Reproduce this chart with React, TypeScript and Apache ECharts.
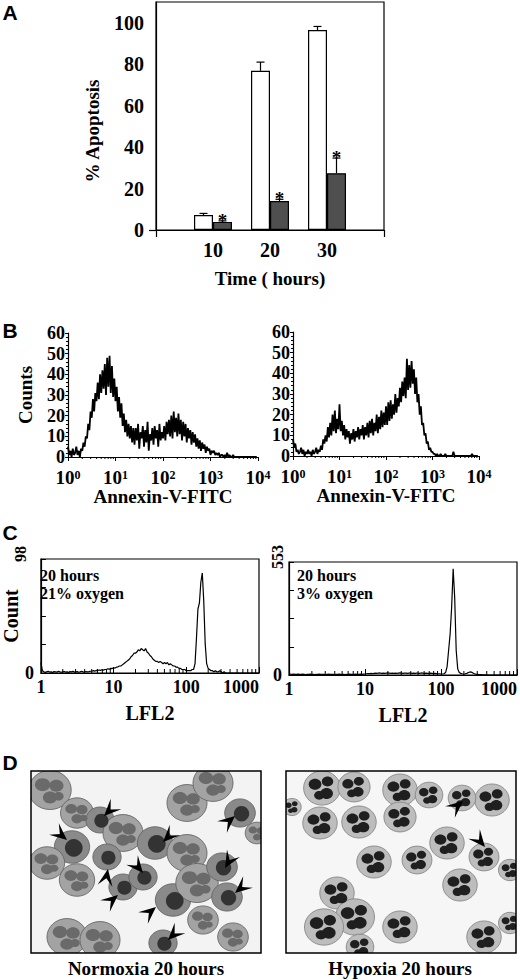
import React, { useEffect, useRef } from 'react';
import * as echarts from 'echarts';

// ---------- Panel A: % apoptosis ----------
const hours = [10, 20, 30];
const normoxiaApoptosis = [7.2, 76.8, 96.5];
const normoxiaSem = [0.8, 4.2, 1.7];
const hypoxiaApoptosis = [3.9, 14.0, 27.4];
const hypoxiaSem = [0.5, 0.8, 7.3];
const apoptosisTicks = [0, 20, 40, 60, 80, 100];

// ---------- Panel B: Annexin-V-FITC histograms (channel bins, 0.025 decade each) ----------
const annexinDecadesPerBin = 0.025;
const annexinNormoxia = [
  5, 1, 3, 0, 4, 1, 2, 5, 1, 3, 0, 4,
  3, 7, 5, 10,
  9, 16, 13, 22,
  19, 28, 22, 31,
  27, 36, 28, 40,
  31, 42, 33, 45,
  30, 48, 34, 49,
  31, 44, 29, 38,
  27, 34, 22, 29,
  19, 26, 15, 21,
  12, 18, 10, 16,
  9, 15, 7, 14,
  6, 14, 8, 16, 4, 12, 9, 15, 5, 13, 7, 17, 3, 11, 8, 14, 6, 15, 9, 13, 5, 16, 8, 12,
  9, 15, 8, 17, 11, 18, 10, 20,
  9, 22, 12, 19, 10, 21, 11, 18,
  8, 17, 10, 16, 7, 14, 9, 13,
  6, 12, 7, 11, 5, 9, 4, 8,
  3, 7, 4, 6, 2, 5, 3, 4,
  1, 3, 2, 3, 1, 2, 1, 2,
  0, 1, 1, 0, 1, 0, 2, 0, 1, 0, 0, 1,
  0, 0, 0, 0, 0, 0, 0, 0, 0, 0, 0, 0, 0, 0, 0, 0, 0, 0, 0, 0,
];
const annexinHypoxia = [
  8, 4, 6, 2,
  3, 1, 2, 4, 1, 3, 0, 2, 1, 3, 1, 2, 0, 3, 1, 2, 4, 1, 3, 2,
  5, 3, 8, 6,
  10, 7, 14, 9,
  16, 10, 20, 12,
  22, 11, 18, 13,
  25, 12, 17, 10,
  15, 8, 13, 9,
  12, 6, 11, 8,
  13, 7, 12, 9,
  14, 8, 13, 10,
  15, 8, 14, 10,
  16, 9, 17, 11,
  18, 10, 16, 12,
  20, 11, 19, 13,
  22, 14, 21, 15,
  24, 15, 26, 17,
  27, 18, 25, 20,
  30, 21, 28, 24,
  33, 26, 36, 29,
  38, 28, 47, 32,
  44, 33, 46, 35,
  42, 30, 38, 26,
  30, 20, 24, 15,
  16, 10, 11, 6,
  7, 3, 4, 2,
  2, 1, 1, 0, 1, 0, 0, 1,
  0, 0, 0, 1, 0, 0, 0, 0, 0, 0, 2, 0, 0, 0, 0, 0,
  0, 0, 0, 0, 0, 0, 0, 0, 0, 0, 1, 0, 0, 0, 0, 0,
];
const annexinMinorTicks = [
  2, 3, 4, 5, 6, 7, 8, 9, 20, 30, 40, 50, 60, 70, 80, 90,
  200, 300, 400, 500, 600, 700, 800, 900, 2000, 3000, 4000, 5000, 6000, 7000, 8000, 9000,
];

// ---------- Panel C: LFL2 histograms (channel bins, 0.02 decade each) ----------
const lflDecadesPerBin = 0.02;
const lflNormoxia = [
  9, 2,
  1, 0.5, 1, 1.5, 0.8, 1, 0.5, 1.2, 1, 0.7, 1.5, 1, 0.6, 1, 1.3, 0.8, 1, 0.5, 1.2, 1,
  1.4, 0.8, 1, 1.2, 0.6, 1, 1.5, 1, 0.8, 1.3, 1, 1.2, 1.5,
  1.5, 2, 1.6, 2.2, 2, 2.6, 2.3, 2.8, 2.5, 3,
  3, 3.6, 3.2, 4, 3.8, 4.5, 4.2, 5, 5.3, 6,
  6, 7, 8, 9, 10,
  11, 12, 14, 15, 17,
  17, 18, 20, 19, 21,
  20, 19, 21, 18, 17,
  15, 14, 12, 11, 10,
  10, 9, 10, 9, 8, 9, 8, 9, 7, 8,
  7, 6, 6, 5, 5, 4, 4, 3, 3, 3,
  2, 2, 2, 2, 3,
  3, 8, 30, 55, 60, 78, 86, 62, 25, 8, 4,
  3, 2, 2, 1, 2, 1, 1, 2, 1,
  0, 1, 0, 0, 0, 0, 0, 0, 0, 0, 0, 0, 0, 0, 0, 0, 0, 0, 0, 0, 0, 0, 0, 0, 0, 0,
];
const lflHypoxia = [
  6, 4, 3, 4, 3, 3, 4, 3, 3, 4, 3, 2, 3, 3, 4, 3, 3, 2, 3, 3, 4, 3, 3, 3, 2,
  3, 4, 3, 3, 3, 2, 3, 3, 4, 3, 3, 3, 2, 3, 3, 4, 3, 3, 3, 4, 3, 3, 4, 3, 4,
  5, 6, 7, 7, 8, 7, 8, 9, 8, 10, 9, 8, 9, 8, 9, 10, 9, 8, 9, 8, 9, 8, 9, 10, 9, 8,
  9, 9, 8, 9, 10, 8, 9, 8, 9, 9, 8, 10, 9, 8, 9, 8, 8, 9, 8, 7, 8, 7, 6, 6, 5, 5,
  6, 12, 40, 120, 200, 330, 520, 380, 120, 30, 12,
  8, 6, 5, 6, 8,
  12, 15, 14, 10, 6,
  4, 3, 2, 2, 1, 1, 1, 0, 0, 0, 0, 0, 0, 0, 0, 0, 0, 0, 0, 0, 0, 0, 0, 0, 0, 0, 0, 0,
];
const lflNormoxiaMax = 98;
const lflHypoxiaMax = 553;
const lflMinorTicks = [2, 3, 4, 5, 6, 7, 8, 9, 20, 30, 40, 50, 60, 70, 80, 90, 200, 300, 400, 500, 600, 700, 800, 900];

// ---------- Panel D: micrograph sketch (image-relative positions) ----------
const normoxiaCells = [
  [19, 19, 18, 0], [46, 42, 14, 0], [69, 49, 12, 1], [92, 62, 17, 0], [41, 76, 15, 1],
  [16, 92, 15, 0], [46, 109, 15, 0], [76, 86, 12, 1], [92, 116, 12, 1], [112, 106, 12, 1],
  [124, 72, 15, 1], [156, 82, 17, 0], [142, 129, 15, 1], [166, 112, 18, 0], [191, 96, 13, 1],
  [196, 126, 13, 1], [172, 149, 13, 0], [202, 166, 13, 0], [156, 32, 17, 0], [182, 12, 17, 0],
  [209, 42, 13, 1], [36, 166, 17, 0], [69, 169, 17, 0], [132, 172, 12, 1], [226, 62, 10, 0],
];
const hypoxiaCells = [
  [36, 17, 16], [68, 16, 14], [114, 19, 15], [143, 24, 12], [206, 29, 15], [34, 52, 15],
  [73, 51, 15], [114, 46, 14], [176, 27, 12], [161, 72, 15], [88, 91, 15], [131, 89, 13],
  [198, 86, 13], [174, 114, 15], [51, 122, 15], [69, 146, 17], [38, 156, 17], [114, 156, 15],
  [198, 166, 15], [74, 176, 12], [224, 99, 10], [224, 152, 10], [6, 36, 8],
];
const normoxiaArrows = [
  [73, 45, 135], [36, 69, 40], [132, 71, 135], [204, 45, -40], [112, 102, 50], [77, 98, -80],
  [87, 124, -40], [194, 97, 120], [125, 136, -40], [204, 122, 140], [137, 169, 135],
];
const hypoxiaArrows = [[177, 30, -40], [199, 76, 50]];

const SERIF = '"Liberation Serif", "Times New Roman", Times, serif';
const SANS = '"Liberation Sans", Arial, Helvetica, sans-serif';

const bold = (size: number) => ({ fontFamily: SERIF, fontWeight: 'bold' as const, fontSize: size, color: '#000' });

function gText(text: string, x: number, y: number, size: number, opts: any = {}) {
  return {
    type: 'text',
    x,
    y,
    z: 20,
    rotation: opts.rotation || 0,
    style: {
      text,
      fontFamily: opts.family || SERIF,
      fontWeight: 'bold',
      fontSize: size,
      fill: '#000',
      align: opts.align || 'center',
      verticalAlign: opts.valign || 'middle',
      lineHeight: opts.lineHeight,
    },
  };
}

function arrowHead(ox: number, oy: number, a: number[]) {
  const [tx0, ty0, deg] = a;
  const tx = ox + tx0;
  const ty = oy + ty0;
  const r = (deg * Math.PI) / 180;
  const ux = Math.cos(r);
  const uy = Math.sin(r);
  const nx = -uy;
  const ny = ux;
  const L = 17;
  const W = 7.5;
  return {
    type: 'polygon',
    z: 3,
    shape: {
      points: [
        [tx, ty],
        [tx - L * ux + W * nx, ty - L * uy + W * ny],
        [tx - 0.55 * L * ux, ty - 0.55 * L * uy],
        [tx - L * ux - W * nx, ty - L * uy - W * ny],
      ],
    },
    style: { fill: '#000' },
  };
}

function micrograph(ox: number, oy: number, w: number, h: number, hyp: boolean) {
  const els: any[] = [];
  els.push({ type: 'rect', z: 0, shape: { x: ox, y: oy, width: w, height: h }, style: { fill: hyp ? '#f6f6f6' : '#f3f3f3' } });
  if (!hyp) {
    normoxiaCells.forEach(([cx, cy, r0, k]) => {
      const r = r0 * 1.18;
      const x = ox + cx;
      const y = oy + cy;
      els.push({
        type: 'ellipse', z: 1,
        shape: { cx: x, cy: y, rx: r, ry: r * 0.92 },
        style: { fill: k ? '#8a8a8a' : '#a3a3a3', stroke: '#5e5e5e', lineWidth: 0.8 },
      });
      if (k) {
        els.push({ type: 'circle', z: 2, shape: { cx: x + r * 0.1, cy: y + r * 0.05, r: r * 0.5 }, style: { fill: '#333333' } });
      } else {
        [[-0.35, -0.25, 0.3], [0.3, -0.2, 0.28], [0, 0.35, 0.28], [0.4, 0.3, 0.2]].forEach(([dx, dy, rr]) => {
          els.push({ type: 'ellipse', z: 2, shape: { cx: x + dx * r, cy: y + dy * r, rx: rr * r * 1.2, ry: rr * r }, style: { fill: '#6a6a6a' } });
        });
      }
    });
    normoxiaArrows.forEach((a) => els.push(arrowHead(ox, oy, a)));
  } else {
    hypoxiaCells.forEach(([cx, cy, r0]) => {
      const r = r0 * 1.15;
      const x = ox + cx;
      const y = oy + cy;
      els.push({
        type: 'ellipse', z: 1,
        shape: { cx: x, cy: y, rx: r, ry: r * 0.93 },
        style: { fill: '#bdbdbd', stroke: '#7e7e7e', lineWidth: 0.8 },
      });
      [[-0.38, -0.2, 0.3], [0.3, -0.35, 0.27], [0.25, 0.3, 0.3], [-0.15, 0.4, 0.24]].forEach(([dx, dy, rr]) => {
        els.push({ type: 'ellipse', z: 2, shape: { cx: x + dx * r, cy: y + dy * r, rx: rr * r * 1.15, ry: rr * r }, style: { fill: '#1f1f1f' } });
      });
    });
    hypoxiaArrows.forEach((a) => els.push(arrowHead(ox, oy, a)));
  }
  return els;
}

function tickSeries(xi: number, values: number[], len: number) {
  return {
    type: 'custom',
    xAxisIndex: xi,
    yAxisIndex: xi,
    clip: false,
    silent: true,
    data: values.map((v) => [v, 0]),
    renderItem: (_p: any, api: any) => {
      const p = api.coord([api.value(0), 0]);
      return {
        type: 'line',
        shape: { x1: p[0], y1: p[1], x2: p[0], y2: p[1] + len },
        style: { stroke: '#000', lineWidth: 1 },
      };
    },
  };
}

function histLine(xi: number, values: number[], step: number, width: number) {
  return {
    type: 'line',
    xAxisIndex: xi,
    yAxisIndex: xi,
    symbol: 'none',
    silent: true,
    lineStyle: { color: '#000', width },
    data: values.map((v, i) => [Math.pow(10, Math.round(i * step * 1000) / 1000), v]),
  };
}

const axisLineBlack = { show: true, onZero: false, lineStyle: { color: '#000', width: 1.2 } };

function annexinX(grid: number) {
  return {
    gridIndex: grid,
    type: 'log',
    logBase: 10,
    min: 1,
    max: 10000,
    splitLine: { show: false },
    axisLine: axisLineBlack,
    axisTick: { show: true, length: 4, lineStyle: { color: '#000' } },
    axisLabel: {
      margin: 12,
      formatter: (v: number) => '{b|10}{s|' + Math.round(Math.log10(v)) + '}',
      rich: {
        b: { ...bold(19), lineHeight: 16 },
        s: { ...bold(12), verticalAlign: 'top', lineHeight: 12, padding: [0, 0, 4, 0] },
      },
    },
    name: 'Annexin-V-FITC',
    nameLocation: 'middle',
    nameGap: 27,
    nameTextStyle: bold(19),
  };
}

function annexinY(grid: number, withName: boolean) {
  return {
    gridIndex: grid,
    type: 'value',
    min: 0,
    max: 60,
    interval: 10,
    splitLine: { show: false },
    axisLine: axisLineBlack,
    axisTick: { show: true, length: 3, lineStyle: { color: '#000' } },
    minorTick: { show: true, splitNumber: 5, length: 2, lineStyle: { color: '#000' } },
    axisLabel: { ...bold(18), margin: 3, lineHeight: 12 },
    name: withName ? 'Counts' : '',
    nameLocation: 'middle',
    nameRotate: 90,
    nameGap: 33,
    nameTextStyle: bold(19),
  };
}

function lflX(grid: number) {
  return {
    gridIndex: grid,
    type: 'log',
    logBase: 10,
    min: 1,
    max: 1000,
    splitLine: { show: false },
    axisLine: axisLineBlack,
    axisTick: { show: true, inside: true, length: 6, lineStyle: { color: '#000' } },
    axisLabel: { ...bold(18), margin: 5, alignMaxLabel: 'right', formatter: (v: number) => String(Math.round(v)) },
    name: 'LFL2',
    nameLocation: 'middle',
    nameGap: 30,
    nameTextStyle: bold(20),
  };
}

function lflY(grid: number, max: number, withName: boolean) {
  return {
    gridIndex: grid,
    type: 'value',
    min: 0,
    max,
    interval: max / 4,
    splitLine: { show: false },
    axisLine: axisLineBlack,
    axisTick: { show: true, inside: true, length: 5, lineStyle: { color: '#000' } },
    axisLabel: { ...bold(18), margin: 7, customValues: [0] },
    name: withName ? 'Count' : '',
    nameLocation: 'middle',
    nameRotate: 90,
    nameGap: 13,
    nameTextStyle: bold(20),
  };
}

export default function App() {
  const ref = useRef<HTMLDivElement>(null);
  useEffect(() => {
    document.body.style.margin = '0';
    if (!ref.current) return;
    const chart = echarts.init(ref.current, undefined, { renderer: 'svg' });

    const errorBars = {
      type: 'custom',
      xAxisIndex: 0,
      yAxisIndex: 0,
      clip: false,
      silent: true,
      z: 5,
      data: [
        ...hours.map((h, i) => [h, normoxiaApoptosis[i], normoxiaSem[i], 0]),
        ...hours.map((h, i) => [h, hypoxiaApoptosis[i], hypoxiaSem[i], 1]),
      ],
      renderItem: (_p: any, api: any) => {
        const x = api.value(0);
        const v = api.value(1);
        const e = api.value(2);
        const s = api.value(3);
        const top = api.coord([x, v + e]);
        const bot = api.coord([x, v]);
        const cx = top[0] + (s === 0 ? -9.5 : 9.5);
        const children: any[] = [
          { type: 'line', shape: { x1: cx, y1: bot[1], x2: cx, y2: top[1] }, style: { stroke: '#000', lineWidth: 1.2 } },
          { type: 'line', shape: { x1: cx - 4, y1: top[1], x2: cx + 4, y2: top[1] }, style: { stroke: '#000', lineWidth: 1.2 } },
        ];
        if (s === 1) {
          children.push({
            type: 'text',
            x: cx,
            y: top[1] + 9,
            style: { text: '*', fontFamily: SERIF, fontWeight: 'bold', fontSize: 19, fill: '#000', align: 'center', verticalAlign: 'bottom' },
          });
        }
        return { type: 'group', children };
      },
    };

    const graphics: any[] = [
      ...micrograph(31, 771, 230, 182, false),
      ...micrograph(286, 771, 230, 182, true),
      // masks to trim the sketched cells to the photo frames
      { type: 'rect', z: 8, shape: { x: 0, y: 740, width: 520, height: 31 }, style: { fill: '#fff' } },
      { type: 'rect', z: 8, shape: { x: 0, y: 953, width: 520, height: 27 }, style: { fill: '#fff' } },
      { type: 'rect', z: 8, shape: { x: 0, y: 740, width: 31, height: 240 }, style: { fill: '#fff' } },
      { type: 'rect', z: 8, shape: { x: 261, y: 740, width: 25, height: 240 }, style: { fill: '#fff' } },
      { type: 'rect', z: 8, shape: { x: 516, y: 740, width: 4, height: 240 }, style: { fill: '#fff' } },
      { type: 'rect', z: 10, shape: { x: 31, y: 771, width: 230, height: 182 }, style: { fill: 'none', stroke: '#000', lineWidth: 1.5 } },
      { type: 'rect', z: 10, shape: { x: 286, y: 771, width: 230, height: 182 }, style: { fill: 'none', stroke: '#000', lineWidth: 1.5 } },
      gText('Normoxia 20 hours', 146, 968, 19),
      gText('Hypoxia 20 hours', 400, 968, 19),
      // panel letters
      gText('A', 10, 12, 21, { family: SANS }),
      gText('B', 10, 330, 21, { family: SANS }),
      gText('C', 10, 532, 21, { family: SANS }),
      gText('D', 10, 762, 21, { family: SANS }),
      gText('% Apoptosis', 92, 131, 19, { rotation: Math.PI / 2 }),
      gText(String(lflNormoxiaMax), 20, 554, 16, { rotation: Math.PI / 2 }),
      gText(String(lflHypoxiaMax), 277, 557, 16, { rotation: Math.PI / 2 }),
      gText('20 hours\n21% oxygen', 40, 584, 16, { align: 'left', lineHeight: 18 }),
      gText('20 hours\n3% oxygen', 297, 584, 16, { align: 'left', lineHeight: 18 }),
    ];

    const option: any = {
      animation: false,
      backgroundColor: '#fff',
      grid: [
        { left: 156, top: 2, width: 228, height: 228, show: true, borderColor: '#000', borderWidth: 1.2, backgroundColor: 'transparent' },
        { left: 68, top: 333, width: 190, height: 124 },
        { left: 293, top: 332, width: 186, height: 124 },
        { left: 31, top: 559, width: 228, height: 114, show: true, borderColor: '#000', borderWidth: 1.2, backgroundColor: 'transparent' },
        { left: 289, top: 562, width: 228, height: 113, show: true, borderColor: '#000', borderWidth: 1.2, backgroundColor: 'transparent' },
      ],
      xAxis: [
        {
          gridIndex: 0,
          type: 'value',
          min: 0,
          max: 40,
          splitLine: { show: false },
          axisLine: axisLineBlack,
          axisTick: { show: true, customValues: [0, 40], length: 7, lineStyle: { color: '#000', width: 1.2 } },
          axisLabel: { ...bold(20), margin: 10, customValues: hours },
          name: 'Time ( hours)',
          nameLocation: 'middle',
          nameGap: 39,
          nameTextStyle: bold(19),
        },
        annexinX(1),
        annexinX(2),
        lflX(3),
        lflX(4),
      ],
      yAxis: [
        {
          gridIndex: 0,
          type: 'value',
          min: 0,
          max: 110,
          splitLine: { show: false },
          axisLine: axisLineBlack,
          axisTick: { show: true, customValues: [0], length: 7, lineStyle: { color: '#000', width: 1.2 } },
          axisLabel: { ...bold(20), margin: 12, customValues: apoptosisTicks },
        },
        annexinY(1, true),
        annexinY(2, false),
        lflY(3, lflNormoxiaMax, true),
        lflY(4, lflHypoxiaMax, false),
      ],
      series: [
        {
          name: '21% oxygen',
          type: 'bar',
          xAxisIndex: 0,
          yAxisIndex: 0,
          barWidth: 19,
          barGap: '0%',
          itemStyle: { color: '#ffffff', borderColor: '#000', borderWidth: 1.2 },
          data: hours.map((h, i) => [h, normoxiaApoptosis[i]]),
        },
        {
          name: '3% oxygen',
          type: 'bar',
          xAxisIndex: 0,
          yAxisIndex: 0,
          barWidth: 19,
          barGap: '0%',
          itemStyle: { color: '#4f4f4f', borderColor: '#000', borderWidth: 1.2 },
          data: hours.map((h, i) => [h, hypoxiaApoptosis[i]]),
        },
        errorBars,
        histLine(1, annexinNormoxia, annexinDecadesPerBin, 1.8),
        histLine(2, annexinHypoxia, annexinDecadesPerBin, 1.8),
        tickSeries(1, annexinMinorTicks, 2),
        tickSeries(2, annexinMinorTicks, 2),
        histLine(3, lflNormoxia, lflDecadesPerBin, 1.2),
        histLine(4, lflHypoxia, lflDecadesPerBin, 1.2),
        tickSeries(3, lflMinorTicks, -4),
        tickSeries(4, lflMinorTicks, -4),
      ],
      graphic: { elements: graphics },
    };
    chart.setOption(option);
    return () => chart.dispose();
  }, []);
  return <div ref={ref} style={{ width: 520, height: 980 }} />;
}
